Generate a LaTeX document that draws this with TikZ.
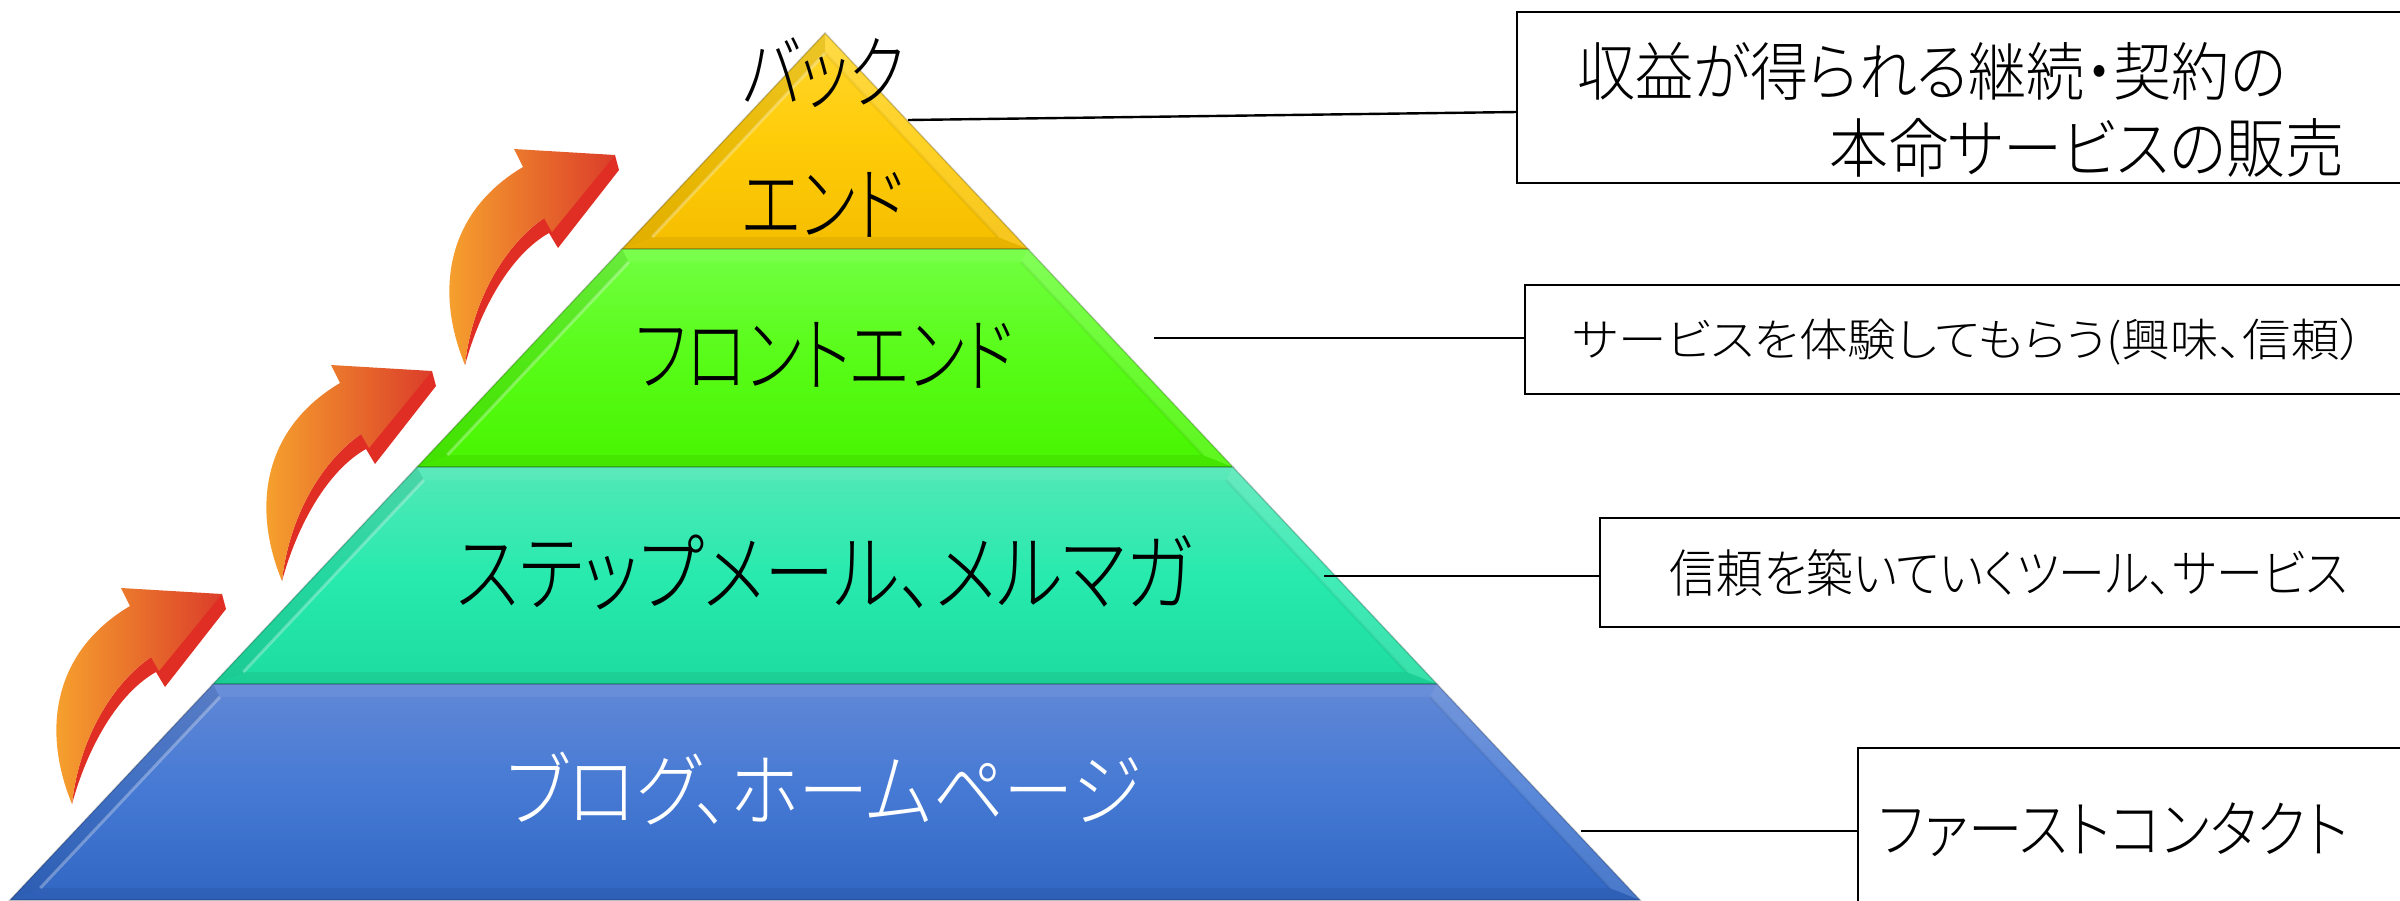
\documentclass[tikz,border=0pt]{standalone}
\usepackage{fontspec}
\usepackage{graphicx}
\newfontfamily\jpfont[RawFeature={+palt}]{Noto Sans CJK JP Light}
\newcommand{\jptxt}[3]{\resizebox*{#1pt}{#2pt}{\jpfont #3}}
\definecolor{yellowtop}{HTML}{FFD62E}
\definecolor{yellowmid}{HTML}{FFCC08}
\definecolor{yellowbot}{HTML}{F5BE00}
\definecolor{greentop}{HTML}{72FF42}
\definecolor{greenmid}{HTML}{58FC18}
\definecolor{greenbot}{HTML}{48F500}
\definecolor{tealtop}{HTML}{52E8B6}
\definecolor{tealmid}{HTML}{28EAAE}
\definecolor{tealbot}{HTML}{1DDC9E}
\definecolor{bluetop}{HTML}{6188D6}
\definecolor{bluemid}{HTML}{4579D4}
\definecolor{bluebot}{HTML}{3166C2}
\definecolor{arrowlow}{HTML}{F8A92E}
\definecolor{arrowhigh}{HTML}{DB3D2A}
\definecolor{arrowred}{HTML}{E02E24}
\tikzset{
  txtnode/.style={inner sep=0pt, outer sep=0pt},
  infobox/.style={draw=black, line width=2.4pt, fill=white, anchor=north west, inner sep=0pt, outer sep=0pt},
  leader/.style={draw=black, line width=2.4pt},
  arrowface/.style={left color=arrowlow, right color=arrowhigh},
  arrowside/.style={fill=arrowred}
}

\begin{document}
\begin{tikzpicture}[x=1pt, y=-1pt]
    \useasboundingbox (0,0) rectangle (2400,900);
    % pyramid, layer by layer
    \foreach \ytop/\ybot/\intop/\cola/\colm/\colb in {33/249/20/yellowtop/yellowmid/yellowbot,
      249/467/13/greentop/greenmid/greenbot, 467/684/13/tealtop/tealmid/tealbot, 684/900/13/bluetop/bluemid/bluebot}
    {
      \pgfmathsetmacro{\ha}{.94*(\ytop-33)}
      \pgfmathsetmacro{\hb}{.94*(\ybot-33)}
      \pgfmathsetmacro{\hc}{.94*(\ytop+\intop-33)-19}
      \pgfmathsetmacro{\hd}{.94*(\ybot-12-33)-19}
      \pgfmathsetmacro{\yc}{\ytop+\intop}
      \pgfmathsetmacro{\yd}{\ybot-12}
      \coordinate (tl) at ({825-\ha},\ytop);
      \coordinate (tr) at ({825+\ha},\ytop);
      \coordinate (bl) at ({825-\hb},\ybot);
      \coordinate (br) at ({825+\hb},\ybot);
      \coordinate (itl) at ({825-\hc},\yc);
      \coordinate (itr) at ({825+\hc},\yc);
      \coordinate (ibl) at ({825-\hd},\yd);
      \coordinate (ibr) at ({825+\hd},\yd);
      \path[top color=\cola, bottom color=\colb, middle color=\colm] (tl) -- (tr) -- (br) -- (bl) -- cycle;
      \fill[black, opacity=.08] (tl) -- (itl) -- (ibl) -- (bl) -- cycle;
      \fill[white, opacity=.12] (tr) -- (itr) -- (ibr) -- (br) -- cycle;
      \fill[white, opacity=.06] (tl) -- (tr) -- (itr) -- (itl) -- cycle;
      \fill[black, opacity=.06] (bl) -- (br) -- (ibr) -- (ibl) -- cycle;
      \draw[white, opacity=.3, line width=3pt] (itl) -- (ibl);
      \draw[black, opacity=.05, line width=3pt] (itr) -- (ibr);
      \draw[black, opacity=.2, line width=1.5pt] (tl) -- (tr) -- (br) -- (bl) -- cycle;
    }
    % arrows on the left
    \foreach \dx/\dy in {0/0, -183/216, -393/439}
    {
      \begin{scope}[shift={(\dx,\dy)}]
        \fill[arrowside] (465,365) .. controls (480,310) and (510,255) .. (549,233) -- (558,248)
          -- (619,170) -- (615,155) -- (544,218) .. controls (505,245) and (472,300) .. (465,365) -- cycle;
        \path[arrowface] (465,365) .. controls (434,290) and (447,212) .. (523,167) -- (514,149)
          -- (615,155) -- (552,232) -- (544,218) .. controls (505,245) and (472,300) .. (465,365) -- cycle;
      \end{scope}
    }
    % layer labels
    \node[txtnode] (back1) at (823.5,73) {\jptxt{163}{70}{バック}};
    \node[txtnode] (back2) at (823.5,204.5) {\jptxt{163}{65}{エンド}};
    \node[txtnode] (front) at (824.5,355) {\jptxt{379}{66}{フロントエンド}};
    \node[txtnode] (step) at (824.5,572) {\jptxt{737}{75}{ステップメール、メルマガ}};
    \node[txtnode, text=white] (blog) at (823.5,788.5) {\jptxt{635}{73}{ブログ、ホームページ}};
    % boxes on the right
    \node[infobox, minimum width=900pt, minimum height=171pt] (boxback) at (1517,12) {};
    \node[infobox, minimum width=900pt, minimum height=109pt] (boxfront) at (1525,285) {};
    \node[infobox, minimum width=900pt, minimum height=109pt] (boxstep) at (1600,518) {};
    \node[infobox, minimum width=900pt, minimum height=166pt] (boxblog) at (1858,748) {};
    \node[txtnode] (backa) at (1931.5,71) {\jptxt{709}{58}{収益が得られる継続・契約の}};
    \node[txtnode] (backb) at (2087,147.5) {\jptxt{514}{59}{本命サービスの販売}};
    \node[txtnode] (fronta) at (1968.5,341.5) {\jptxt{791}{47}{サービスを体験してもらう(興味、信頼）}};
    \node[txtnode] (stepa) at (2009,573.5) {\jptxt{678}{47}{信頼を築いていくツール、サービス}};
    \node[txtnode] (bloga) at (2113.5,830) {\jptxt{469}{54}{ファーストコンタクト}};
    % connectors
    \coordinate (backs) at (908,120);
    \coordinate (backe) at (1517,112);
    \coordinate (fronts) at (1154,338);
    \coordinate (steps) at (1324,576);
    \coordinate (blogs) at (1581,831);
    \draw[leader] (backs) -- (boxback.west |- backe);
    \draw[leader] (fronts) -- (boxfront.west |- fronts);
    \draw[leader] (steps) -- (boxstep.west |- steps);
    \draw[leader] (blogs) -- (boxblog.west |- blogs);
\end{tikzpicture}
\end{document}
